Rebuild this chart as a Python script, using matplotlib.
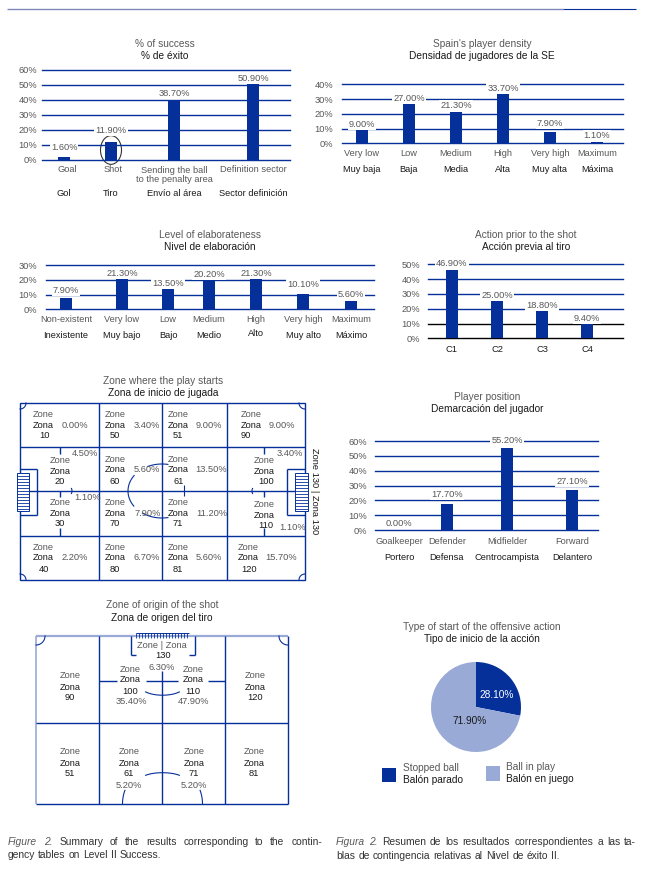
import numpy as np
import matplotlib
matplotlib.use('Agg')
import matplotlib.pyplot as plt
from matplotlib.patches import Rectangle, Ellipse

W, H = 668, 883
BLUE = '#05309a'
LIGHT = '#9aaad6'
GRAY = '#58585a'
DARK = '#1a1a1a'
FS = 6.7
TFS = 7.3

plt.rcParams['font.family'] = ['Liberation Sans', 'DejaVu Sans']

# bar charts
success_en = ['Goal', 'Shot', 'Sending the ball\nto the penalty area', 'Definition sector']
success_es = ['Gol', 'Tiro', 'Envío al área', 'Sector definición']
success_val = [1.6, 11.9, 38.7, 50.9]

density_en = ['Very low', 'Low', 'Medium', 'High', 'Very high', 'Maximum']
density_es = ['Muy baja', 'Baja', 'Media', 'Alta', 'Muy alta', 'Máxima']
density_val = [9.0, 27.0, 21.3, 33.7, 7.9, 1.1]

elab_en = ['Non-existent', 'Very low', 'Low', 'Medium', 'High', 'Very high', 'Maximum']
elab_es = ['Inexistente', 'Muy bajo', 'Bajo', 'Medio', 'Alto', 'Muy alto', 'Máximo']
elab_val = [7.9, 21.3, 13.5, 20.2, 21.3, 10.1, 5.6]

prior_cat = ['C1', 'C2', 'C3', 'C4']
prior_val = [46.9, 25.0, 18.8, 9.4]

pos_en = ['Goalkeeper', 'Defender', 'Midfielder', 'Forward']
pos_es = ['Portero', 'Defensa', 'Centrocampista', 'Delantero']
pos_val = [0.0, 17.7, 55.2, 27.1]

# zone where the play starts
start_zones = ['10', '50', '51', '90', '20', '60', '61', '100',
               '30', '70', '71', '110', '40', '80', '81', '120']
start_val = [0.0, 3.4, 9.0, 9.0, 4.5, 5.6, 13.5, 3.4,
             1.1, 7.9, 11.2, 1.1, 2.2, 6.7, 5.6, 15.7]

# zone of origin of the shot
origin_zones = ['90', '100', '110', '120', '51', '61', '71', '81']
origin_val = [None, 35.4, 47.9, None, None, 5.2, 5.2, None]
origin_130 = 6.3

# pie
pie_val = [28.1, 71.9]


fig = plt.figure(figsize=(W / 100, H / 100), dpi=100)
bg = fig.add_axes([0, 0, 1, 1], zorder=0)
bg.set_xlim(0, W)
bg.set_ylim(H, 0)
bg.axis('off')


def txt(x, y, s, c=GRAY, ha='center', va='center', fs=FS, **kw):
    return bg.text(x, y, s, color=c, ha=ha, va=va, fontsize=fs, **kw)


def line(xs, ys, c=BLUE, lw=1.0):
    bg.plot(xs, ys, color=c, lw=lw, solid_capstyle='butt', zorder=1)


def arc(cx, cy, rx, ry, t0, t1, lw=0.8):
    t = np.radians(np.linspace(t0, t1, 30))
    bg.plot(cx + rx * np.cos(t), cy + ry * np.sin(t), color=BLUE, lw=lw, zorder=1)


def titles(x, y0, y1, en, es):
    txt(x, y0, en, fs=TFS)
    txt(x, y1, es, c=DARK, fs=TFS)


def bars(x0, x1, y0, step, top, xpos, vals, dy, gap=8, dark=()):
    # axes whose data x is the page pixel, y in percent
    y1 = y0 - step * top / 10
    ax = fig.add_axes([x0 / W, 1 - y0 / H, (x1 - x0) / W, (y0 - y1) / H], zorder=2)
    ax.patch.set_alpha(0)
    ax.set_xlim(x0, x1)
    ax.set_ylim(0, top)
    for s in ax.spines.values():
        s.set_visible(False)
    ticks = np.arange(0, top + 1, 10)
    ax.set_yticks(ticks)
    ax.set_yticklabels(['%d%%' % t for t in ticks], fontsize=FS, color=GRAY)
    ax.set_xticks([])
    ax.tick_params(axis='y', length=0, pad=gap * 0.72)
    for t in ticks:
        ax.axhline(t, color='black' if t in dark else BLUE, lw=1.0, zorder=1, clip_on=False)
    ax.bar(xpos, vals, width=12, color=BLUE, zorder=2)
    for x, v, d in zip(xpos, vals, dy):
        ax.annotate('%.2f%%' % v, (x, v), xytext=(0, d * 0.72), textcoords='offset points',
                    ha='center', va='center', fontsize=FS, color=GRAY, zorder=3,
                    bbox=dict(fc='white', ec='none', pad=0.8))
    return ax


def spaced(x0, x1, y, words, colors, styles):
    # one caption line: words spread between x0 and x1
    fig.canvas.draw()
    r = fig.canvas.get_renderer()
    items = [txt(x0, y, w, c=c, ha='left', fs=7.4, style=s) for w, c, s in zip(words, colors, styles)]
    widths = [t.get_window_extent(r).width for t in items]
    sp = (x1 - x0 - sum(widths)) / (len(items) - 1)
    x = x0
    for t, w in zip(items, widths):
        t.set_x(x)
        x += w + sp


def caption(x0, x1, y, s, n_italic=0):
    words = s.split(' ')
    cols = [GRAY if i < n_italic else '#333333' for i in range(len(words))]
    sty = ['italic' if i < n_italic else 'normal' for i in range(len(words))]
    spaced(x0, x1, y, words, cols, sty)


# header rule
line([7, 563], [9, 9], c='#7f86b8', lw=1.0)
line([563, 636], [9, 9], c=BLUE, lw=0.8)

# % of success
titles(165, 44, 56, '% of success', '% de éxito')
bars(42, 290, 159.5, 15, 60, [64, 111, 174, 253], success_val, [10, 11, 8, 4.5], gap=5)
for x, s in zip([67, 113, 174, 253], success_en):
    txt(x, 175 if '\n' in s else 170, s, linespacing=1.0)
for x, s in zip([64, 111, 174, 253], success_es):
    txt(x, 194, s, c=DARK)
bg.add_patch(Ellipse((111, 150), 21, 28.7, fc='none', ec='#333333', lw=0.8, zorder=5))

# density
titles(482, 44, 56, "Spain's player density", 'Densidad de jugadores de la SE')
bars(342, 623, 143.3, 14.75, 40, [362, 409, 456, 503, 550, 597], density_val,
     [6, 5.3, 6.3, 5.3, 8, 6.3], gap=9)
for x, a, b in zip([362, 409, 456, 503, 550, 597], density_en, density_es):
    txt(x, 154, a)
    txt(x, 169, b, c=DARK)

# elaboration
titles(210, 235, 247, 'Level of elaborateness', 'Nivel de elaboración')
bars(46, 374, 309.3, 14.67, 30, [66, 122, 168, 209, 256, 303, 351], elab_val,
     [7.3, 5, 6, 5.6, 5, 10, 6.3], gap=9)
elab_es_y = [335, 335, 336, 336, 334, 335, 335]
for x, a, b, y in zip([66, 122, 168, 209, 256, 303, 351], elab_en, elab_es, elab_es_y):
    txt(x, 320, a)
    txt(x, y, b, c=DARK)

# prior action
titles(526, 235, 247, 'Action prior to the shot', 'Acción previa al tiro')
bars(428, 623, 338.3, 14.8, 50, [452, 497, 542, 587], prior_val, [5, 6, 5.3, 6], gap=8, dark=(0, 10))
for x, a in zip([452, 497, 542, 587], prior_cat):
    txt(x, 349, a, c=DARK)

# player position
titles(487, 397, 409, 'Player position', 'Demarcación del jugador')
bars(375, 598, 530, 14.83, 60, [399, 447, 507, 572], pos_val, [7, 9, 8, 8], gap=8)
for x, a, b in zip([399, 447, 507, 572], pos_en, pos_es):
    txt(x, 541, a)
    txt(x, 557, b, c=DARK)

# pitch: zone where the play starts
titles(163, 381, 393, 'Zone where the play starts', 'Zona de inicio de jugada')
bg.add_patch(Rectangle((20, 403), 285, 177, fc='none', ec=BLUE, lw=1.0))
for x in [99, 162, 227]:
    line([x, x], [403, 580])
for y in [447, 491, 536]:
    line([20, 305], [y, y])
for x in [60, 264]:
    line([x, x], [447, 454])
    line([x, x], [491, 497])
    line([x, x], [528, 536])
for x in [37, 287]:
    line([x, x], [469, 515])
line([20, 37], [469, 469])
line([20, 37], [515, 515])
line([287, 305], [469, 469])
line([287, 305], [515, 515])
for gx in [(17, 29), (295, 308)]:
    bg.add_patch(Rectangle((gx[0], 473), gx[1] - gx[0], 38, fc='white', ec=BLUE, lw=0.7, zorder=1))
    for y in np.arange(476, 511, 3):
        line(gx, [y, y], lw=0.6)
arc(162, 491, 34, 27, 146, 215)
arc(162, 491, 34, 27, 245, 280)
arc(162, 491, 34, 27, 80, 125)
line([183.5, 183.5], [485, 496], lw=0.8)
arc(66, 491, 6, 6, -25, 25)
arc(258, 491, 6, 6, 155, 205)
arc(20, 403, 6, 6, 0, 90)
arc(305, 403, 6, 6, 90, 180)
arc(20, 580, 6, 6, -90, 0)
arc(305, 580, 6, 6, 180, 270)

start_x = [33, 105, 168, 241, 50, 105, 168, 254, 50, 105, 168, 254, 33, 105, 168, 238]
start_y = [425, 425, 425, 425, 471, 470, 470, 471, 513, 513, 513, 515, 558, 558, 558, 558]
start_nx = [39, 110, 173, 241, 55, 110, 173, 258, 55, 110, 173, 258, 39, 110, 173, 241]
start_px = [62, 134, 196, 269, 72, 134, 195, 277, 74, 134.5, 196, 279, 62, 134, 196, 265]
start_py = [425, 425, 425, 425, 453, 470, 470, 453, 497, 513, 513, 527, 558, 558, 558, 558]
for i in range(16):
    txt(start_x[i], start_y[i] - 10.5, 'Zone', ha='left', zorder=3)
    txt(start_x[i], start_y[i], 'Zona', c=DARK, ha='left', zorder=3)
    txt(start_nx[i], start_y[i] + 11, start_zones[i], c=DARK, ha='left', zorder=3)
    txt(start_px[i], start_py[i], '%.2f%%' % start_val[i], ha='left', zorder=3)
txt(315, 491.5, 'Zone 130 | Zona 130', c=DARK, rotation=-90)

# pitch: zone of origin of the shot
titles(162, 605, 618, 'Zone of origin of the shot', 'Zona de origen del tiro')
line([36, 288], [636, 636], c=LIGHT, lw=1.6)
line([36, 36], [636, 804], c=LIGHT, lw=1.2)
line([288, 288], [636, 804])
line([36, 288], [804, 804])
line([36, 288], [723, 723])
for x in [99, 225]:
    line([x, x], [636, 804])
line([162, 162], [671, 804])
line([99, 117], [681, 681])
line([146, 178], [681, 681])
line([208, 225], [681, 681])
line([131, 131], [636, 655])
line([195, 195], [636, 655])
line([131, 136], [655, 655])
line([189, 195], [655, 655])
line([136, 189], [633, 633], lw=0.7)
for x in np.arange(136, 190, 3):
    line([x, x], [633, 638], lw=0.6)
arc(162.5, 686, 22, 9.2, 40, 140)
arc(162.5, 780, 22, 7.3, -140, -40)
arc(162.5, 804, 40, 40, 180, 200)
arc(162.5, 804, 40, 40, -20, 0)
arc(36, 636, 9, 9, 0, 90)
arc(288, 636, 9, 9, 90, 180)

origin_x = [70, 130, 193, 255, 70, 129, 194, 254]
origin_y = [687, 680, 680, 687, 763, 763, 763, 763]
origin_px = [0, 131, 194, 0, 0, 129, 194, 0]
for i in range(8):
    txt(origin_x[i], origin_y[i] - 11, 'Zone', zorder=3)
    txt(origin_x[i], origin_y[i], 'Zona', c=DARK, zorder=3)
    txt(origin_x[i], origin_y[i] + 11, origin_zones[i], c=DARK, zorder=3)
    if origin_val[i] is not None:
        txt(origin_px[i], origin_y[i] + 22, '%.2f%%' % origin_val[i], zorder=3)
txt(162, 645, 'Zone | Zona', zorder=3)
txt(163, 655.5, '130', c=DARK, zorder=3)
txt(162, 667, '%.2f%%' % origin_130, zorder=3)

# pie
titles(482, 627, 639, 'Type of start of the offensive action', 'Tipo de inicio de la acción')
r = 45
pax = fig.add_axes([(476 - r) / W, 1 - (707 + r) / H, 2 * r / W, 2 * r / H], zorder=2)
pax.pie(pie_val, colors=[BLUE, LIGHT], startangle=90, counterclock=False, radius=1)
pax.set_xlim(-1, 1)
pax.set_ylim(-1, 1)
pax.text(0.45, 0.26, '%.2f%%' % pie_val[0], color='white', ha='center', va='center', fontsize=TFS)
pax.text(-0.13, -0.32, '%.2f%%' % pie_val[1], color=DARK, ha='center', va='center', fontsize=TFS)

bg.add_patch(Rectangle((382, 768), 14, 14, fc=BLUE, ec='none'))
bg.add_patch(Rectangle((486, 766), 14, 15, fc=LIGHT, ec='none'))
txt(403, 768, 'Stopped ball', ha='left', fs=TFS)
txt(403, 780, 'Balón parado', c=DARK, ha='left', fs=TFS)
txt(506.5, 767, 'Ball in play', ha='left', fs=TFS)
txt(506.5, 779, 'Balón en juego', c=DARK, ha='left', fs=TFS)

# captions
caption(8, 322, 842, 'Figure 2. Summary of the results corresponding to the contin-', 2)
caption(8, 161, 855, 'gency tables on Level II Success.')
caption(336, 636, 842, 'Figura 2. Resumen de los resultados correspondientes a las ta-', 2)
caption(336, 560, 856, 'blas de contingencia relativas al Nivel de éxito II.')

fig.savefig('out.png', dpi=100)
plt.close()
